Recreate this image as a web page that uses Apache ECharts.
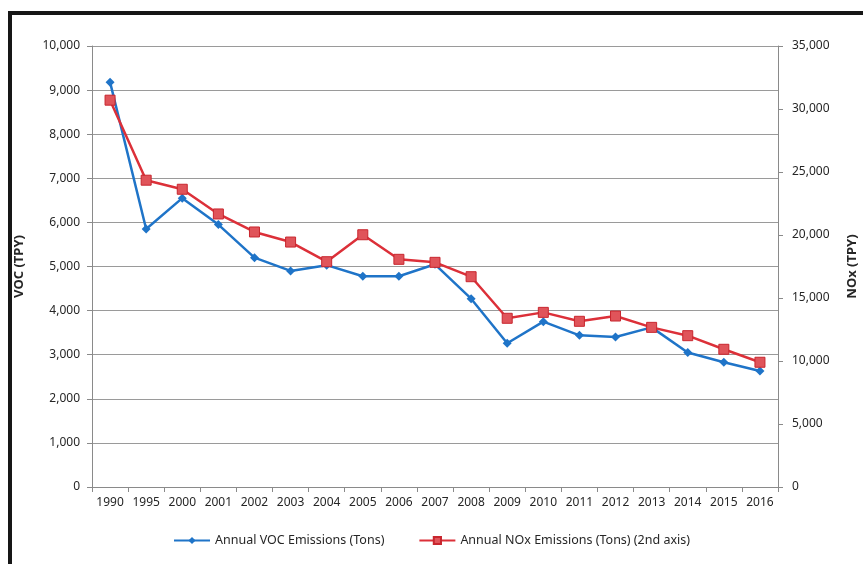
<!DOCTYPE html>
<html>
<head>
<meta charset="utf-8">
<script src="https://cdn.jsdelivr.net/npm/echarts@6/dist/echarts.min.js"></script>
<style>
  html, body { margin: 0; padding: 0; background: #fff; }
  #chart { width: 863px; height: 564px; }
</style>
</head>
<body>
<div id="chart"></div>
<script>
const years = ['1990', '1995', '2000', '2001', '2002', '2003', '2004', '2005', '2006', '2007',
  '2008', '2009', '2010', '2011', '2012', '2013', '2014', '2015', '2016']
const vocTons = [9180, 5850, 6550, 5950, 5200, 4900, 5030, 4780, 4780, 5050,
  4270, 3260, 3750, 3440, 3400, 3620, 3050, 2830, 2630]
const noxTons = [30700, 24350, 23630, 21670, 20240, 19440, 17880, 20020, 18070, 17830,
  16690, 13390, 13860, 13150, 13570, 12670, 12010, 10930, 9900]

const fmt = v => v.toLocaleString('en-US')
const blue = '#1f74c8'
const red = '#dc3039'
const axisGray = '#8a8a8a'
const txt = '#262626'

const myChart = echarts.init(document.getElementById('chart'))
const option = {
  backgroundColor: '#fff',
  textStyle: { fontFamily: 'Noto Sans' },
  animation: false,
  graphic: [
    {
      type: 'rect',
      shape: { x: 10, y: 13, width: 900, height: 620 },
      style: { fill: 'none', stroke: '#161616', lineWidth: 4 }
    }
  ],
  grid: { left: 92, right: 85, top: 46, bottom: 77, outerBoundsMode: 'none', containLabel: false },
  legend: {
    bottom: 12,
    left: 'center',
    itemGap: 34,
    itemWidth: 36,
    itemHeight: 9,
    textStyle: { color: txt, fontSize: 12.5 },
    data: ['Annual VOC Emissions (Tons)', 'Annual NOx Emissions (Tons) (2nd axis)']
  },
  xAxis: {
    type: 'category',
    data: years,
    boundaryGap: true,
    axisLine: { lineStyle: { color: axisGray } },
    axisTick: { show: true, length: 5, lineStyle: { color: axisGray } },
    axisLabel: { color: txt, fontSize: 12, margin: 10, interval: 0 }
  },
  yAxis: [
    {
      type: 'value',
      min: 0,
      max: 10000,
      interval: 1000,
      name: 'VOC (TPY)',
      nameLocation: 'middle',
      nameGap: 66,
      nameTextStyle: { color: txt, fontSize: 13, fontWeight: 'bold' },
      axisLine: { show: true, lineStyle: { color: axisGray } },
      axisTick: { show: true, length: 5, lineStyle: { color: axisGray } },
      axisLabel: { color: txt, fontSize: 12, margin: 12, formatter: fmt },
      splitLine: { lineStyle: { color: '#9a9a9a', width: 1 } }
    },
    {
      type: 'value',
      min: 0,
      max: 35000,
      interval: 5000,
      position: 'right',
      name: 'NOx (TPY)',
      nameLocation: 'middle',
      nameGap: 68,
      nameTextStyle: { color: txt, fontSize: 13, fontWeight: 'bold' },
      axisLine: { show: true, lineStyle: { color: axisGray } },
      axisTick: { show: true, length: 5, lineStyle: { color: axisGray } },
      axisLabel: { color: txt, fontSize: 12, margin: 14, formatter: fmt },
      splitLine: { show: false }
    }
  ],
  series: [
    {
      name: 'Annual VOC Emissions (Tons)',
      type: 'line',
      yAxisIndex: 0,
      data: vocTons,
      symbol: 'diamond',
      symbolSize: 9,
      lineStyle: { color: blue, width: 2.5 },
      itemStyle: { color: blue }
    },
    {
      name: 'Annual NOx Emissions (Tons) (2nd axis)',
      type: 'line',
      yAxisIndex: 1,
      data: noxTons,
      symbol: 'rect',
      symbolSize: 10,
      lineStyle: { color: red, width: 2.5 },
      itemStyle: { color: '#e0545a', borderColor: '#c8262e', borderWidth: 1 }
    }
  ]
}
myChart.setOption(option)
</script>
</body>
</html>
